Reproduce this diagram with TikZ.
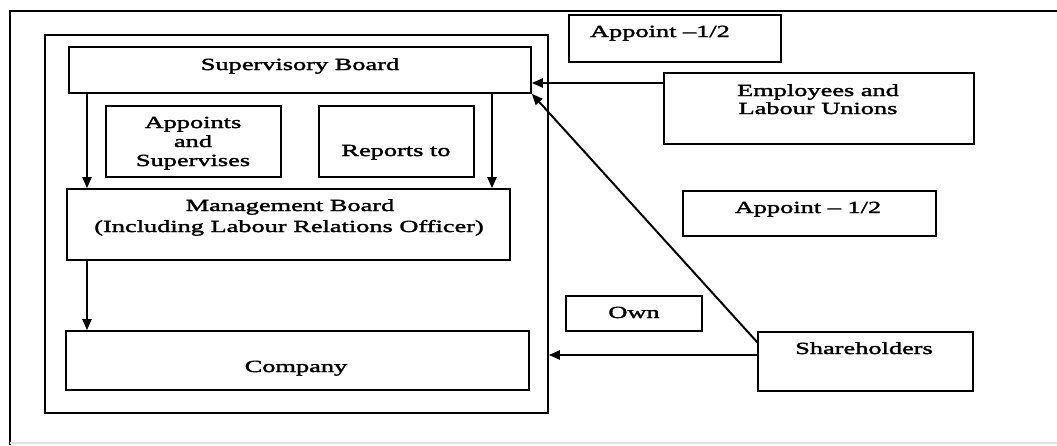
\documentclass[tikz,border=0pt]{standalone}
\usepackage{fontspec}
\setmainfont[FakeStretch=1.55,FakeBold=2]{Liberation Serif}
\usetikzlibrary{fit,calc,arrows.meta}
\begin{document}
\begin{tikzpicture}[x=1pt,y=-1pt,
  box/.style={draw=black, line width=1.6pt, inner sep=0pt},
  txt/.style={anchor=base, inner sep=0pt, font=\fontsize{17}{19.5}\selectfont, align=center},
  arr/.style={draw=black, line width=2pt, -{Triangle[length=11pt,width=9pt]}}]
\useasboundingbox (0,0) rectangle (1057,445);
% outer frame
\coordinate (otl) at (10,11);
\coordinate (otr) at (1057,11);
\coordinate (obl) at (10,445);
\coordinate (obr) at (1057,443);
\draw[line width=1.6pt] (otr) -- (otl) -- (obl);
\draw[line width=1.2pt, black!12] (10,443) -- (obr);
% inner frame and boxes
\node[box, fit={(45,35) (548,413)}] (frame) {};
\node[box, fit={(69,47) (531,93)}] (sb) {};
\node[box, fit={(106,106) (281,177)}] (app) {};
\node[box, fit={(319,106) (474,177)}] (rep) {};
\node[box, fit={(67,189) (510,260)}] (mb) {};
\node[box, fit={(66,331) (529,390)}] (co) {};
\node[box, fit={(569,15) (781,62)}] (a1) {};
\node[box, fit={(664,73) (974,144)}] (emp) {};
\node[box, fit={(683,191) (936,236)}] (a2) {};
\node[box, fit={(566,296) (702,331)}] (own) {};
\node[box, fit={(758,332) (973,391)}] (sh) {};
% texts
\node[txt] (tsb) at (300,70) {Supervisory Board};
\node[txt] (tapp1) at (193,128) {Appoints};
\node[txt] (tapp2) at (193,147) {and};
\node[txt] (tapp3) at (193,166) {Supervises};
\node[txt] (trep) at (396,156) {Reports to};
\node[txt] (tmb1) at (290,211) {Management Board};
\node[txt] (tmb2) at (289,232) {(Including Labour Relations Officer)};
\node[txt] (tco) at (296,372) {Company};
\node[txt] (ta1) at (660,37) {Appoint \textendash 1/2};
\node[txt] (temp1) at (818,96) {Employees and};
\node[txt] (temp2) at (818,114) {Labour Unions};
\node[txt] (ta2) at (808,213) {Appoint \textendash{} 1/2};
\node[txt] (town) at (634,318) {Own};
\node[txt] (tsh) at (864,354) {Shareholders};
% connectors
\coordinate (xl) at (87,0);
\coordinate (xr) at (492,0);
\coordinate (ye) at (0,83);
\coordinate (ys) at (0,355);
\draw[arr] (xl |- sb.south) -- (xl |- mb.north);
\draw[arr] (xr |- sb.south) -- (xr |- mb.north);
\draw[arr] (xl |- mb.south) -- (xl |- co.north);
\draw[arr] (emp.west |- ye) -- (sb.east |- ye);
\draw[arr] ($(sh.north west)+(0,11)$) -- (sb.south east);
\draw[arr] (sh.west |- ys) -- (frame.east |- ys);
\end{tikzpicture}
\end{document}
